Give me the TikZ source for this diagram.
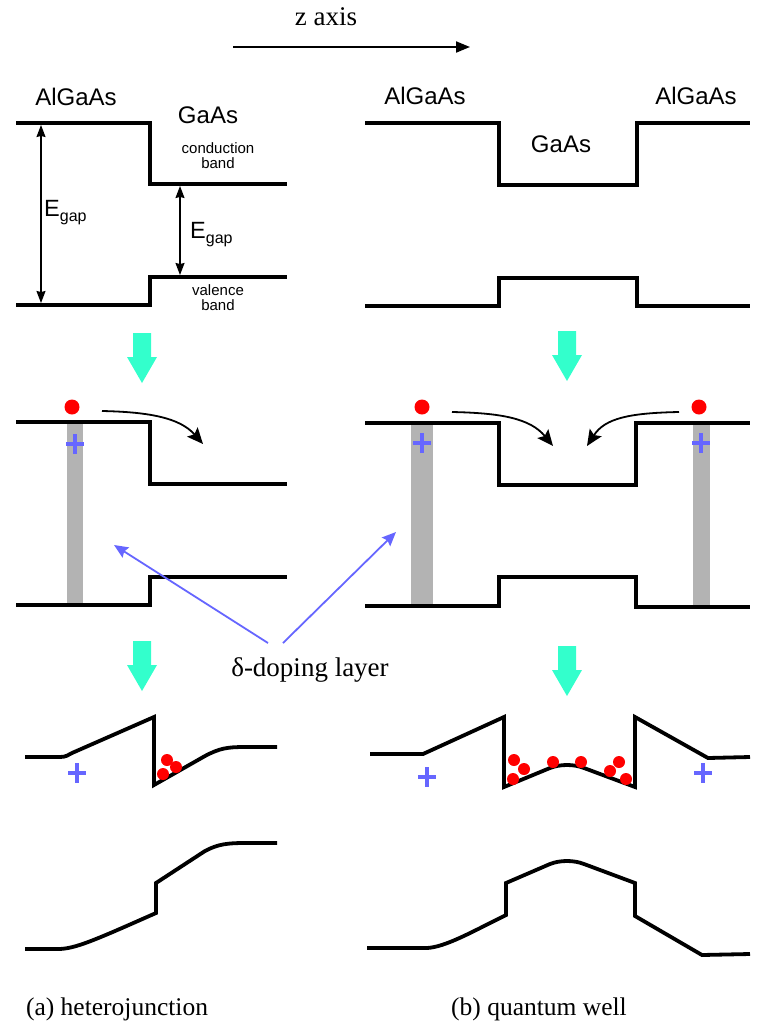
\documentclass[tikz,border=0pt]{standalone}
\usepackage{fontspec}
\setmainfont{Liberation Serif}
\newfontfamily\hel{Liberation Sans}
\usetikzlibrary{arrows.meta}
\definecolor{cyanarrow}{RGB}{51,255,204}
\definecolor{plusblue}{RGB}{102,102,255}
\definecolor{dopegrey}{RGB}{179,179,179}
\begin{document}
\begin{tikzpicture}[x=1pt,y=-1pt,
  band/.style={line width=3.8pt, line join=miter},
  bigsans/.style={font=\hel\fontsize{24}{24}\selectfont, inner sep=0pt, anchor=base},
  smallsans/.style={font=\hel\fontsize{15}{15}\selectfont, inner sep=0pt, anchor=base, align=center},
  serifl/.style={font=\fontsize{25.5}{25.5}\selectfont, inner sep=0pt, anchor=base},
  gaparrow/.style={line width=1.3pt, {Stealth[length=12pt,width=9pt,inset=1pt]}-{Stealth[length=12pt,width=9pt,inset=1pt]}},
  flowarrow/.style={line width=1.8pt, -{Stealth[length=16pt,width=14pt,inset=3pt]}},
  bluearrow/.style={line width=1.8pt, draw=plusblue, -{Stealth[length=14pt,width=12pt,inset=2pt]}},
  dot/.style={fill=red, draw=none},
  dopebar/.style={fill=dopegrey, draw=none},
  plusmark/.pic={\draw[plusblue, line width=3.5pt] (-9,0) -- (9,0) (0,-10) -- (0,10);},
  blockarrow/.pic={\fill[cyanarrow] (-9,0) -- (9,0) -- (9,24) -- (15,24) -- (0,50) -- (-15,24) -- (-9,24) -- cycle;}
]
\useasboundingbox (0,0) rectangle (761,1026);

% ---------- z axis ----------
\node[serifl, font=\fontsize{27}{27}\selectfont] (zlab) at (326,25) {z axis};
\coordinate (za) at (233,47);
\coordinate (zb) at (470,47);
\draw[line width=2pt, -{Stealth[length=14pt,width=11pt,inset=0pt]}] (za) -- (zb);

% ---------- Row 1 left ----------
\draw[band] (16,123) -- (150,123) -- (150,184) -- (287,184);
\draw[band] (16,305) -- (150,305) -- (150,277) -- (287,277);
\node[bigsans] (al1) at (76,105) {AlGaAs};
\node[bigsans] (ga1) at (208,123) {GaAs};
\node[smallsans] (cb1) at (218,168) {conduction\\band};
\node[smallsans] (vb1) at (218,310) {valence\\band};
\coordinate (g1t) at (41,125);
\coordinate (g1b) at (41,303);
\draw[gaparrow] (g1t) -- (g1b);
\coordinate (g2t) at (180,186);
\coordinate (g2b) at (180,275);
\draw[gaparrow] (g2t) -- (g2b);
\node[anchor=base west, inner sep=0pt, font=\hel\fontsize{23.5}{23.5}\selectfont] (eg1) at (44,216) {E\raisebox{-5pt}{\fontsize{16}{16}\selectfont gap}};
\node[anchor=base west, inner sep=0pt, font=\hel\fontsize{23.5}{23.5}\selectfont] (eg2) at (190,238) {E\raisebox{-5pt}{\fontsize{16}{16}\selectfont gap}};

% ---------- Row 1 right ----------
\draw[band] (365,123) -- (499,123) -- (499,185) -- (637,185) -- (637,123) -- (750,123);
\draw[band] (365,306) -- (499,306) -- (499,278) -- (637,278) -- (637,306) -- (750,306);
\node[bigsans] (al2) at (425,104) {AlGaAs};
\node[bigsans] (al3) at (696,104) {AlGaAs};
\node[bigsans] (ga2) at (561,152) {GaAs};

% ---------- cyan arrows ----------
\pic at (142,333) {blockarrow};
\pic at (567,331) {blockarrow};
\pic at (142,641) {blockarrow};
\pic at (567,646) {blockarrow};

% ---------- Row 2 left ----------
\fill[dopebar] (67,422) rectangle (83,605);
\draw[band] (16,422) -- (150,422) -- (150,484) -- (287,484);
\draw[band] (16,605) -- (150,605) -- (150,577) -- (287,577);
\fill[dot] (72,407) circle (7.5);
\pic at (75,444) {plusmark};
\coordinate (fa1) at (102,411);
\coordinate (fb1) at (203,444);
\draw[flowarrow] (fa1) .. controls (150,412) and (180,418) .. (fb1);

% ---------- Row 2 right ----------
\fill[dopebar] (411,423) rectangle (433,606);
\fill[dopebar] (693,423) rectangle (710,607);
\draw[band] (365,423) -- (499,423) -- (499,485) -- (636,485) -- (636,423) -- (750,423);
\draw[band] (365,606) -- (499,606) -- (499,577) -- (636,577) -- (636,607) -- (750,607);
\fill[dot] (422,407) circle (7.5);
\fill[dot] (699,407) circle (7.5);
\pic at (422,443) {plusmark};
\pic at (701,443) {plusmark};
\coordinate (fa2) at (452,412);
\coordinate (fb2) at (553,446);
\draw[flowarrow] (fa2) .. controls (500,413) and (530,418) .. (fb2);
\coordinate (fa3) at (679,412);
\coordinate (fb3) at (587,446);
\draw[flowarrow] (fa3) .. controls (630,413) and (605,418) .. (fb3);

% ---------- delta-doping label ----------
\node[serifl, font=\fontsize{27}{27}\selectfont] (dlab) at (310,676) {δ-doping layer};
\coordinate (ba1) at (268,643);
\coordinate (bt1) at (114,545);
\coordinate (ba2) at (283,643);
\coordinate (bt2) at (396,532);
\draw[bluearrow] (ba1) -- (bt1);
\draw[bluearrow] (ba2) -- (bt2);

% ---------- Row 3 left ----------
\draw[band] (25,757) -- (60,757) .. controls (66,757) and (68,755) .. (72,753) -- (154,717) -- (154,785) -- (205,756) .. controls (220,748) and (228,747) .. (245,747) -- (277,747);
\draw[band] (25,949) -- (58,949) .. controls (75,949) and (95,940) .. (156,913) -- (156,883) -- (205,851) .. controls (218,844) and (228,843) .. (245,843) -- (277,843);
\pic at (77,773) {plusmark};
\fill[dot] (167,760) circle (6);
\fill[dot] (176,767) circle (6);
\fill[dot] (163,774) circle (6);

% ---------- Row 3 right ----------
\draw[band] (370,754) -- (423,754) -- (504,717) -- (504,787) -- (550,768) .. controls (560,764) and (574,764) .. (584,768) -- (635,787) -- (635,717) -- (708,758) -- (750,757);
\draw[band] (367,948) -- (427,948) .. controls (445,947) and (470,933) .. (506,915) -- (506,883) -- (550,864) .. controls (560,860) and (574,860) .. (584,864) -- (635,883) -- (635,916) -- (702,955) -- (750,954);
\pic at (427,777) {plusmark};
\pic at (703,773) {plusmark};
\fill[dot] (514,760) circle (6);
\fill[dot] (524,769) circle (6);
\fill[dot] (513,779) circle (6);
\fill[dot] (553,762) circle (6);
\fill[dot] (581,762) circle (6);
\fill[dot] (619,762) circle (6);
\fill[dot] (610,771) circle (6);
\fill[dot] (626,779) circle (6);

% ---------- captions ----------
\node[serifl] (capa) at (117,1015) {(a) heterojunction};
\node[serifl] (capb) at (539,1015) {(b) quantum well};
\end{tikzpicture}
\end{document}
